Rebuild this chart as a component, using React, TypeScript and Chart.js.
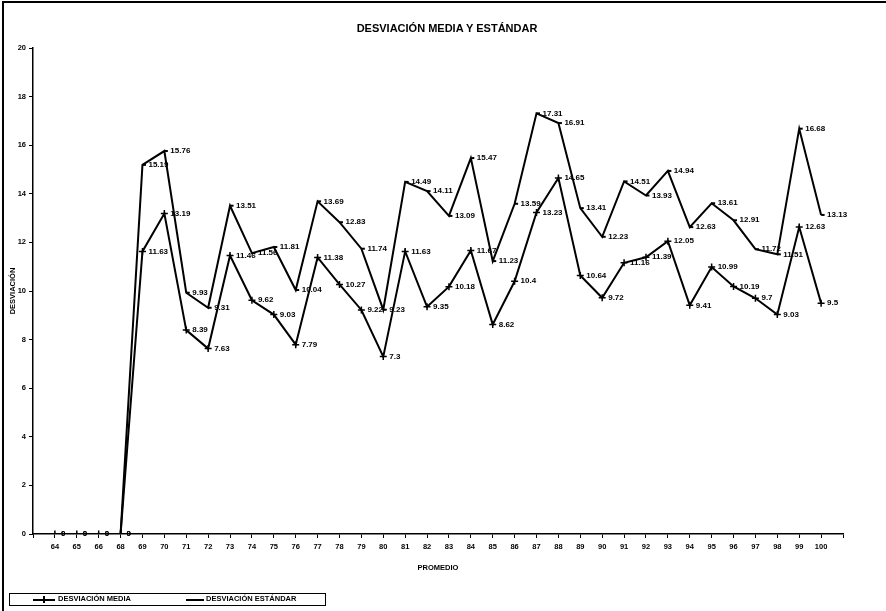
import React, { useEffect, useRef } from "react";
import { Chart, registerables } from "chart.js";

Chart.register(...registerables);

const TITLE = "DESVIACIÓN MEDIA Y ESTÁNDAR";
const X_TITLE = "PROMEDIO";
const Y_TITLE = "DESVIACIÓN";
const SERIES_MEDIA = "DESVIACIÓN MEDIA";
const SERIES_ESTANDAR = "DESVIACIÓN ESTÁNDAR";

const categories = [
  "64", "65", "66", "68", "69", "70", "71", "72", "73", "74", "75", "76",
  "77", "78", "79", "80", "81", "82", "83", "84", "85", "86", "87", "88",
  "89", "90", "91", "92", "93", "94", "95", "96", "97", "98", "99", "100",
];

const media = [
  0, 0, 0, 0, 11.63, 13.19, 8.39, 7.63, 11.46, 9.62, 9.03, 7.79,
  11.38, 10.27, 9.22, 7.3, 11.63, 9.35, 10.18, 11.67, 8.62, 10.4, 13.23, 14.65,
  10.64, 9.72, 11.16, 11.39, 12.05, 9.41, 10.99, 10.19, 9.7, 9.03, 12.63, 9.5,
];

const estandar = [
  0, 0, 0, 0, 15.19, 15.76, 9.93, 9.31, 13.51, 11.56, 11.81, 10.04,
  13.69, 12.83, 11.74, 9.23, 14.49, 14.11, 13.09, 15.47, 11.23, 13.59, 17.31, 16.91,
  13.41, 12.23, 14.51, 13.93, 14.94, 12.63, 13.61, 12.91, 11.72, 11.51, 16.68, 13.13,
];

const yTicks = [0, 2, 4, 6, 8, 10, 12, 14, 16, 18, 20];

const FONT = "'Liberation Sans', Arial, sans-serif";

const valueLabels = {
  id: "valueLabels",
  afterDatasetsDraw(chart: any) {
    const ctx = chart.ctx;
    ctx.save();
    ctx.font = `bold 8px ${FONT}`;
    ctx.fillStyle = "#000";
    ctx.textAlign = "left";
    ctx.textBaseline = "middle";
    chart.data.datasets.forEach((ds: any, di: number) => {
      const meta = chart.getDatasetMeta(di);
      meta.data.forEach((el: any, i: number) => {
        const v = ds.data[i].y;
        ctx.fillText(String(v), el.x + 6, el.y);
      });
    });
    ctx.restore();
  },
};

export default function App() {
  const ref = useRef<HTMLCanvasElement | null>(null);

  useEffect(() => {
    if (!ref.current) return;
    const toPts = (arr: number[]) => arr.map((v, i) => ({ x: i, y: v }));
    const chart = new Chart(ref.current, {
      type: "line",
      data: {
        datasets: [
          {
            label: SERIES_MEDIA,
            data: toPts(media),
            borderColor: "#000",
            backgroundColor: "#000",
            borderWidth: 2,
            pointStyle: "cross",
            pointRadius: 3.5,
            pointBorderWidth: 1.5,
            tension: 0,
          },
          {
            label: SERIES_ESTANDAR,
            data: toPts(estandar),
            borderColor: "#000",
            backgroundColor: "#000",
            borderWidth: 2,
            pointStyle: "dash",
            pointRadius: 3.5,
            pointBorderWidth: 2,
            tension: 0,
          },
        ],
      },
      options: {
        animation: false,
        responsive: false,
        maintainAspectRatio: false,
        layout: { padding: { left: 8, right: 43, top: 48, bottom: 37 } },
        plugins: {
          legend: { display: false },
          tooltip: { enabled: false },
          title: { display: false },
        },
        scales: {
          x: {
            type: "linear",
            min: -1,
            max: categories.length,
            afterFit: (s: any) => {
              s.height = 40;
            },
            afterBuildTicks: (s: any) => {
              const t = [];
              for (let i = -1; i <= categories.length; i++) t.push({ value: i });
              s.ticks = t;
            },
            ticks: {
              autoSkip: false,
              maxRotation: 0,
              color: "#000",
              padding: 4,
              font: { family: FONT, size: 7.5, weight: "bold" },
              callback: (v: any) => categories[v] ?? "",
            },
            grid: { drawOnChartArea: false, drawTicks: true, tickLength: 4, color: "#000" },
            border: { color: "#000", width: 1.5 },
            title: {
              display: true,
              text: X_TITLE,
              color: "#000",
              font: { family: FONT, size: 7.5, weight: "bold" },
              padding: { top: 0, bottom: 2 },
            },
          },
          y: {
            min: 0,
            max: 20,
            afterFit: (s: any) => {
              s.width = 25;
            },
            afterBuildTicks: (s: any) => {
              s.ticks = yTicks.map((v) => ({ value: v }));
            },
            ticks: {
              color: "#000",
              padding: 3,
              font: { family: FONT, size: 7.5, weight: "bold" },
            },
            grid: { drawOnChartArea: false, drawTicks: true, tickLength: 4, color: "#000" },
            border: { color: "#000", width: 1.5 },
            title: {
              display: true,
              text: Y_TITLE,
              color: "#000",
              font: { family: FONT, size: 7.5, weight: "bold" },
              padding: 0,
            },
          },
        },
      },
      plugins: [valueLabels],
    });
    return () => chart.destroy();
  }, []);

  const legendText: React.CSSProperties = {
    fontFamily: FONT,
    fontSize: 7.5,
    fontWeight: "bold",
    color: "#000",
    lineHeight: "10px",
    whiteSpace: "nowrap",
  };

  return (
    <div style={{ position: "absolute", left: 0, top: 0, width: 886, height: 611, background: "#fff", overflow: "hidden" }}>
      <canvas ref={ref} width={886} height={611} style={{ position: "absolute", left: 0, top: 0 }} />
      <div
        style={{
          position: "absolute",
          left: 247,
          top: 22,
          width: 400,
          textAlign: "center",
          fontFamily: FONT,
          fontSize: 11,
          fontWeight: "bold",
          color: "#000",
          lineHeight: "12px",
        }}
      >
        {TITLE}
      </div>
      <div style={{ position: "absolute", left: 2, top: 1, width: 884, height: 2, background: "#000" }} />
      <div style={{ position: "absolute", left: 2, top: 1, width: 2, height: 610, background: "#000" }} />
      <div
        style={{
          position: "absolute",
          left: 9,
          top: 593,
          width: 315,
          height: 11,
          border: "1px solid #000",
        }}
      >
        <div style={{ position: "absolute", left: 23, top: 5, width: 22, height: 1.5, background: "#000" }} />
        <div style={{ position: "absolute", left: 33, top: 2, width: 1.5, height: 7, background: "#000" }} />
        <div style={{ ...legendText, position: "absolute", left: 48, top: 0 }}>{SERIES_MEDIA}</div>
        <div style={{ position: "absolute", left: 176, top: 5, width: 18, height: 1.5, background: "#000" }} />
        <div style={{ ...legendText, position: "absolute", left: 196, top: 0 }}>{SERIES_ESTANDAR}</div>
      </div>
    </div>
  );
}
